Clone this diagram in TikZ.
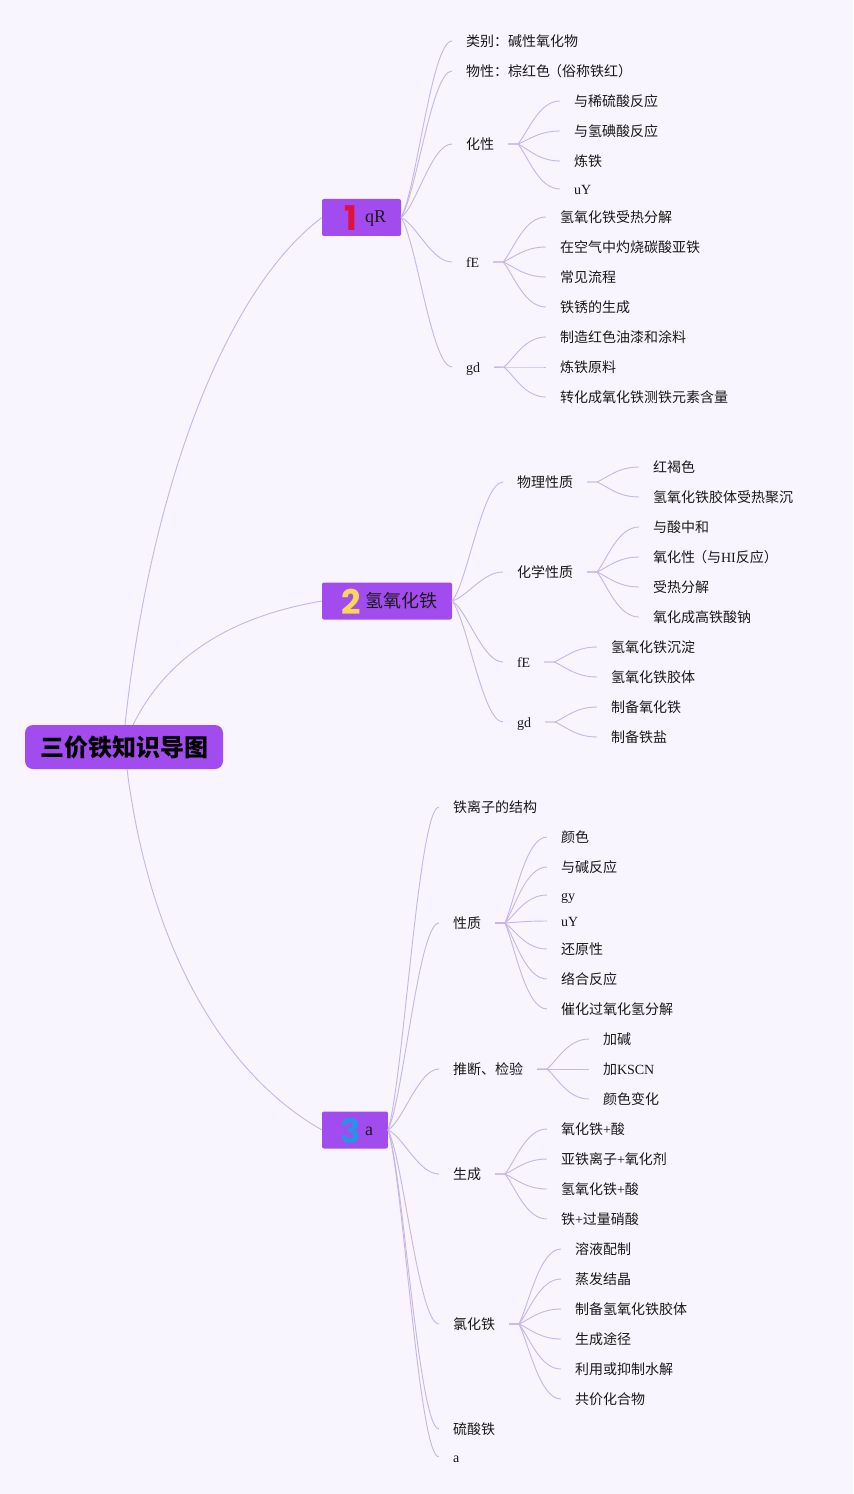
\documentclass[tikz,border=0pt]{standalone}
\usepackage{fontspec}
\usetikzlibrary{calc}
\setmainfont{Liberation Serif}
\newfontfamily\cjk{Noto Sans CJK SC}
\newfontfamily\dgtfont{Poppins}
\newcommand{\lt}[1]{{\rmfamily #1}}
\newcommand{\ltt}[1]{\raisebox{1.2pt}{\rmfamily #1}}
\newcommand{\dgt}[2]{\makebox[21pt][c]{\raisebox{-4.8pt}{\textcolor{#1}{\dgtfont\bfseries\fontsize{25.5pt}{25.5pt}\selectfont #2}}}}
\definecolor{bgc}{HTML}{F8F5FE}
\definecolor{purp}{HTML}{A24BEF}
\definecolor{linec}{HTML}{C6B8E4}
\definecolor{txt}{HTML}{1A1A1A}
\definecolor{dred}{HTML}{E0123C}
\definecolor{dyel}{HTML}{F8D658}
\definecolor{dblu}{HTML}{2A92E6}
\tikzset{
  item/.style={anchor=west,inner xsep=10.5pt,inner ysep=0pt,outer sep=0pt,text height=8pt,text depth=0pt,text=txt,font=\cjk\fontsize{10.5pt}{12pt}\selectfont},
  topn/.style={anchor=west,fill=purp,rounded corners=1.5pt,inner xsep=11.25pt,inner ysep=0pt,outer sep=0pt,minimum height=27.75pt,text height=10.2pt,text depth=0pt,text=txt,font=\cjk\fontsize{13.5pt}{16pt}\selectfont},
  rootn/.style={fill=purp,rounded corners=6pt,inner xsep=11.25pt,inner ysep=0pt,outer sep=0pt,minimum height=33pt,minimum width=148.5pt,text height=13.6pt,text depth=0pt,text=black,font=\cjk\bfseries\fontsize{18pt}{20pt}\selectfont},
  conn/.style={draw=linec,line width=0.7pt}
}
% #3 stub in px, #4 and #6 control x fractions, #5 first control y fraction
\newcommand{\lnkgen}[6]{\draw[conn] let \p1=(#1.east),\p2=(#2.west),\n1={\x1+#3*0.75pt} in (\p1) -- (\n1,\y1) .. controls ({\n1+#4*(\x2-\n1)},{\y1+#5*(\y2-\y1)}) and ({\n1+#6*(\x2-\n1)},\y2) .. (\p2);}
\newcommand{\lnk}[2]{\lnkgen{#1}{#2}{0}{.3}{.15}{.6}}
\newcommand{\lnks}[2]{\lnkgen{#1}{#2}{10}{.25}{.3}{.5}}
\begin{document}
\begin{tikzpicture}[x=0.75pt,y=-0.75pt]
\fill[bgc] (0,0) rectangle (853,1494);
\useasboundingbox (0,0) rectangle (853,1494);
\node[rootn] (root) at (124,747) {三价铁知识导图};
\node[topn] (t1) at (322,217.5) {\dgt{dred}{1}\ltt{qR}};
\node[topn] (t2) at (322,601) {\dgt{dyel}{2}氢氧化铁};
\node[topn] (t3) at (322,1130) {\dgt{dblu}{3}\ltt{a}};
\coordinate (r1) at (125,725);
\coordinate (r2) at (133,725);
\coordinate (r3) at (127,769);
\draw[conn] (r1) .. controls (150,490) and (225,290) .. (t1.west);
\draw[conn] (r2) .. controls (170,650) and (240,615) .. (t2.west);
\draw[conn] (r3) .. controls (150,950) and (225,1075) .. (t3.west);
% branch 1
\node[item] (a1) at (452,41) {类别：碱性氧化物};
\node[item] (a2) at (452,71) {物性：棕红色\kern-1.5pt（俗称铁红）};
\node[item] (a3) at (452,144) {化性};
\node[item] (a4) at (452,262) {\lt{fE}};
\node[item] (a5) at (452,367) {\lt{gd}};
\foreach \c in {a1,a2,a3,a4,a5}{\lnk{t1}{\c}}
\node[item] (a31) at (560,101) {与稀硫酸反应};
\node[item] (a32) at (560,131) {与氢碘酸反应};
\node[item] (a33) at (560,161) {炼铁};
\node[item] (a34) at (560,189) {\lt{uY}};
\foreach \c in {a31,a32,a33,a34}{\lnks{a3}{\c}}
\node[item] (a41) at (546,217) {氢氧化铁受热分解};
\node[item] (a42) at (546,247) {在空气中灼烧碳酸亚铁};
\node[item] (a43) at (546,277) {常见流程};
\node[item] (a44) at (546,307) {铁锈的生成};
\foreach \c in {a41,a42,a43,a44}{\lnks{a4}{\c}}
\node[item] (a51) at (546,337) {制造红色油漆和涂料};
\node[item] (a52) at (546,367) {炼铁原料};
\node[item] (a53) at (546,397) {转化成氧化铁测铁元素含量};
\foreach \c in {a51,a52,a53}{\lnks{a5}{\c}}
% branch 2
\node[item] (b1) at (503,482) {物理性质};
\node[item] (b2) at (503,572) {化学性质};
\node[item] (b3) at (503,662) {\lt{fE}};
\node[item] (b4) at (503,722) {\lt{gd}};
\foreach \c in {b1,b2,b3,b4}{\lnk{t2}{\c}}
\node[item] (b11) at (639,467) {红褐色};
\node[item] (b12) at (639,497) {氢氧化铁胶体受热聚沉};
\foreach \c in {b11,b12}{\lnks{b1}{\c}}
\node[item] (b21) at (639,527) {与酸中和};
\node[item] (b22) at (639,557) {氧化性\kern-1.5pt（与\lt{HI}反应）};
\node[item] (b23) at (639,587) {受热分解};
\node[item] (b24) at (639,617) {氧化成高铁酸钠};
\foreach \c in {b21,b22,b23,b24}{\lnks{b2}{\c}}
\node[item] (b31) at (597,647) {氢氧化铁沉淀};
\node[item] (b32) at (597,677) {氢氧化铁胶体};
\foreach \c in {b31,b32}{\lnks{b3}{\c}}
\node[item] (b41) at (597,707) {制备氧化铁};
\node[item] (b42) at (597,737) {制备铁盐};
\foreach \c in {b41,b42}{\lnks{b4}{\c}}
% branch 3
\node[item] (c1) at (439,807) {铁离子的结构};
\node[item] (c2) at (439,923) {性质};
\node[item] (c3) at (439,1069) {推断、检验};
\node[item] (c4) at (439,1174) {生成};
\node[item] (c5) at (439,1324) {氯化铁};
\node[item] (c6) at (439,1429) {硫酸铁};
\node[item] (c7) at (439,1457) {\lt{a}};
\foreach \c in {c1,c2,c3,c4,c5,c6,c7}{\lnk{t3}{\c}}
\node[item] (c21) at (547,837) {颜色};
\node[item] (c22) at (547,867) {与碱反应};
\node[item] (c23) at (547,895) {\lt{gy}};
\node[item] (c24) at (547,921) {\lt{uY}};
\node[item] (c25) at (547,949) {还原性};
\node[item] (c26) at (547,979) {络合反应};
\node[item] (c27) at (547,1009) {催化过氧化氢分解};
\foreach \c in {c21,c22,c23,c24,c25,c26,c27}{\lnks{c2}{\c}}
\node[item] (c31) at (589,1039) {加碱};
\node[item] (c32) at (589,1069) {加\lt{KSCN}};
\node[item] (c33) at (589,1099) {颜色变化};
\foreach \c in {c31,c32,c33}{\lnks{c3}{\c}}
\node[item] (c41) at (547,1129) {氧化铁\lt{+}酸};
\node[item] (c42) at (547,1159) {亚铁离子\lt{+}氧化剂};
\node[item] (c43) at (547,1189) {氢氧化铁\lt{+}酸};
\node[item] (c44) at (547,1219) {铁\lt{+}过量硝酸};
\foreach \c in {c41,c42,c43,c44}{\lnks{c4}{\c}}
\node[item] (c51) at (561,1249) {溶液配制};
\node[item] (c52) at (561,1279) {蒸发结晶};
\node[item] (c53) at (561,1309) {制备氢氧化铁胶体};
\node[item] (c54) at (561,1339) {生成途径};
\node[item] (c55) at (561,1369) {利用或抑制水解};
\node[item] (c56) at (561,1399) {共价化合物};
\foreach \c in {c51,c52,c53,c54,c55,c56}{\lnks{c5}{\c}}
\end{tikzpicture}
\end{document}
